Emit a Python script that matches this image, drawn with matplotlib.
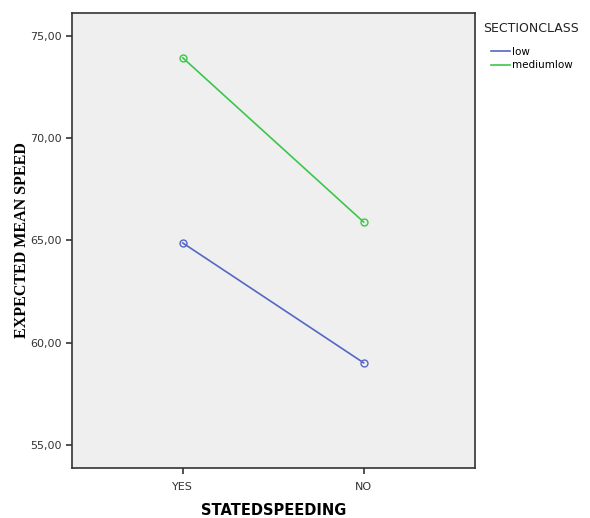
import matplotlib
matplotlib.use("Agg")
import matplotlib.pyplot as plt

# data
categories = ["YES", "NO"]
low = [64.88, 59.02]
mediumlow = [73.93, 65.90]
yticks = [55, 60, 65, 70, 75]
ytick_labels = ["55,00", "60,00", "65,00", "70,00", "75,00"]

fig = plt.figure(figsize=(5.9, 5.18), dpi=100)
ax = fig.add_axes([0.122, 0.0965, 0.683, 0.8785])
ax.set_facecolor("#efefef")

xs = range(len(categories))
ax.plot(xs, low, color="#5567c4", linewidth=1.2, marker="o", markersize=5,
        markerfacecolor="none", markeredgewidth=1.0, label="low")
ax.plot(xs, mediumlow, color="#3cc64a", linewidth=1.2, marker="o", markersize=5,
        markerfacecolor="none", markeredgewidth=1.0, label="mediumlow")

ax.set_xlim(-0.612, 1.615)
ax.set_ylim(53.88, 76.12)
ax.set_xticks(list(xs))
ax.set_xticklabels(categories)
ax.set_yticks(yticks)
ax.set_yticklabels(ytick_labels)
ax.tick_params(labelsize=8, colors="#333333", length=4, width=1.2)
ax.tick_params(axis="x", pad=6)
for s in ax.spines.values():
    s.set_color("#333333")
    s.set_linewidth(1.2)

ax.set_ylabel("EXPECTED MEAN SPEED", family="Liberation Serif", fontweight="bold",
              fontsize=11.5, labelpad=0)
ax.set_xlabel("STATEDSPEEDING", fontweight="bold", fontsize=10.5, labelpad=8)

fig.text(483 / 590, 1 - 29 / 518, "SECTIONCLASS", fontsize=9, color="#222222",
         ha="left", va="center")
leg = ax.legend(loc="upper left", bbox_to_anchor=(1.04, 0.925),
                frameon=False, fontsize=7.5, handlelength=1.8,
                handletextpad=0.2, labelspacing=0.3, borderaxespad=0.0,
                borderpad=0.0)
for line in leg.get_lines():
    line.set_marker("")

fig.savefig("out.png", dpi=100)
